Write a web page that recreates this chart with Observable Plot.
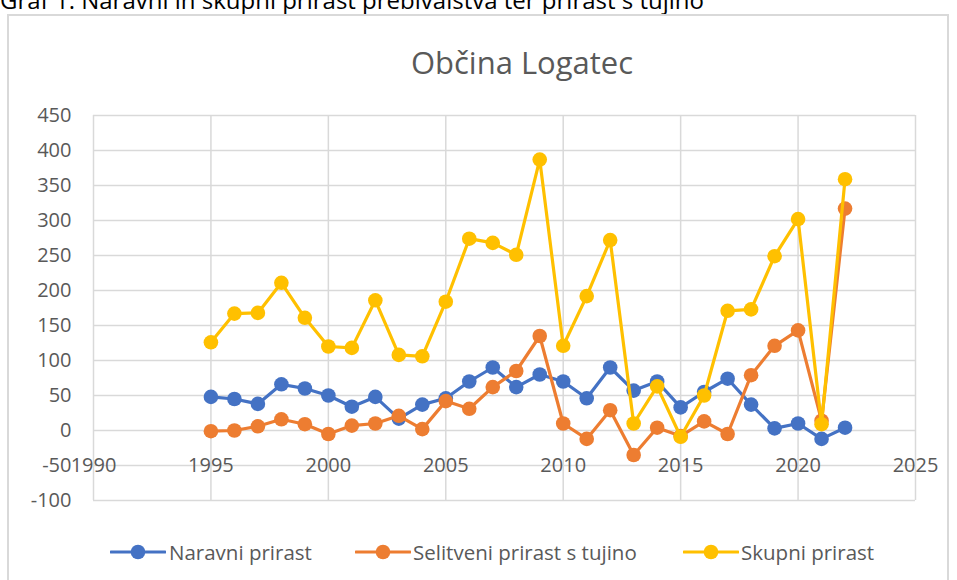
<!DOCTYPE html>
<html>
<head>
<meta charset="utf-8">
<script src="https://cdn.jsdelivr.net/npm/d3@7"></script>
<script src="https://cdn.jsdelivr.net/npm/@observablehq/plot@0.6"></script>
<style>
  html, body { margin: 0; padding: 0; background: #fff; }
  #root { position: relative; width: 957px; height: 580px; overflow: hidden; background: #fff; font-family: "Open Sans", Lato, sans-serif; }
  #caption { position: absolute; left: 0; top: -17px; font-size: 24px; color: #000; white-space: nowrap; }
  #frame { position: absolute; left: 7px; top: 14px; width: 942px; height: 600px; border: 2px solid #d9d9d9; box-sizing: border-box; }
  #title { position: absolute; left: 0; top: 47px; width: 1044px; text-align: center; font-size: 31px; color: #595959; line-height: 1; }
  #plot { position: absolute; left: 0; top: 0; }
  .leg { position: absolute; top: 540px; height: 24px; display: flex; align-items: center; font-size: 20.5px; color: #595959; white-space: nowrap; }
  .leg svg { display: block; }
</style>
</head>
<body>
<div id="root">
  <div id="caption">Graf 1: Naravni in skupni prirast prebivalstva ter prirast s tujino</div>
  <div id="frame"></div>
  <div id="title">Občina Logatec</div>
  <div id="plot"></div>
  <div id="legend"></div>
</div>
<script>
const years = [1995,1996,1997,1998,1999,2000,2001,2002,2003,2004,2005,2006,2007,2008,2009,2010,2011,2012,2013,2014,2015,2016,2017,2018,2019,2020,2021,2022];
const naravni = [48,45,38,66,60,50,34,48,17,37,46,70,90,62,80,70,46,90,57,70,33,55,74,37,3,10,-12,4];
const selitveni = [-1,0,6,16,9,-5,7,10,21,2,42,31,62,85,135,10,-12,29,-35,4,-8,13,-5,79,121,143,14,317];
const skupni = [126,167,168,211,161,120,118,186,108,106,184,274,268,251,387,121,192,272,10,63,-9,50,171,173,249,302,9,359];

const seriesNames = ["Naravni prirast", "Selitveni prirast s tujino", "Skupni prirast"];
const seriesColors = ["#4472C4", "#ED7D31", "#FFC000"];
const seriesValues = [naravni, selitveni, skupni];

const xTicks = [1990,1995,2000,2005,2010,2015,2020,2025];
const yTicks = [-100,-50,0,50,100,150,200,250,300,350,400,450];

const series = seriesNames.map((name, i) => years.map((yr, j) => ({year: yr, value: seriesValues[i][j], name})));

const marks = [
  Plot.ruleY(yTicks, {stroke: "#d9d9d9", strokeWidth: 1.5}),
  Plot.ruleX(xTicks, {stroke: "#d9d9d9", strokeWidth: 1.5}),
  Plot.axisY(yTicks, {tickSize: 0, tickPadding: 22, fontSize: 20, tickFormat: d => String(d), label: null}),
  Plot.text(xTicks, {x: d => d, y: -50, text: d => String(d), fontSize: 20, fill: "#595959"})
];
series.forEach((s, i) => {
  marks.push(Plot.line(s, {x: "year", y: "value", stroke: seriesColors[i], strokeWidth: 3.2, strokeLinejoin: "round", strokeLinecap: "round"}));
  marks.push(Plot.dot(s, {x: "year", y: "value", fill: seriesColors[i], r: 7.3, stroke: "none"}));
});

const chart = Plot.plot({
  width: 957,
  height: 520,
  marginLeft: 93,
  marginRight: 42,
  marginTop: 115,
  marginBottom: 20,
  x: {domain: [1990, 2025], axis: null},
  y: {domain: [-100, 450], axis: null},
  style: {fontFamily: "'Open Sans', Lato, sans-serif", color: "#595959", background: "transparent", overflow: "visible"},
  marks
});
document.getElementById("plot").appendChild(chart);

// legend
const legendPos = [[110, 169], [355, 413], [683, 741]];
const legend = document.getElementById("legend");
seriesNames.forEach((name, i) => {
  const icon = document.createElement("div");
  icon.className = "leg";
  icon.style.left = legendPos[i][0] + "px";
  icon.innerHTML = `<svg width="56" height="20"><line x1="1" x2="55" y1="10" y2="10" stroke="${seriesColors[i]}" stroke-width="3.2" stroke-linecap="round"/><circle cx="28" cy="10" r="7.3" fill="${seriesColors[i]}"/></svg>`;
  legend.appendChild(icon);
  const t = document.createElement("div");
  t.className = "leg";
  t.style.left = legendPos[i][1] + "px";
  t.textContent = name;
  legend.appendChild(t);
});
</script>
</body>
</html>
